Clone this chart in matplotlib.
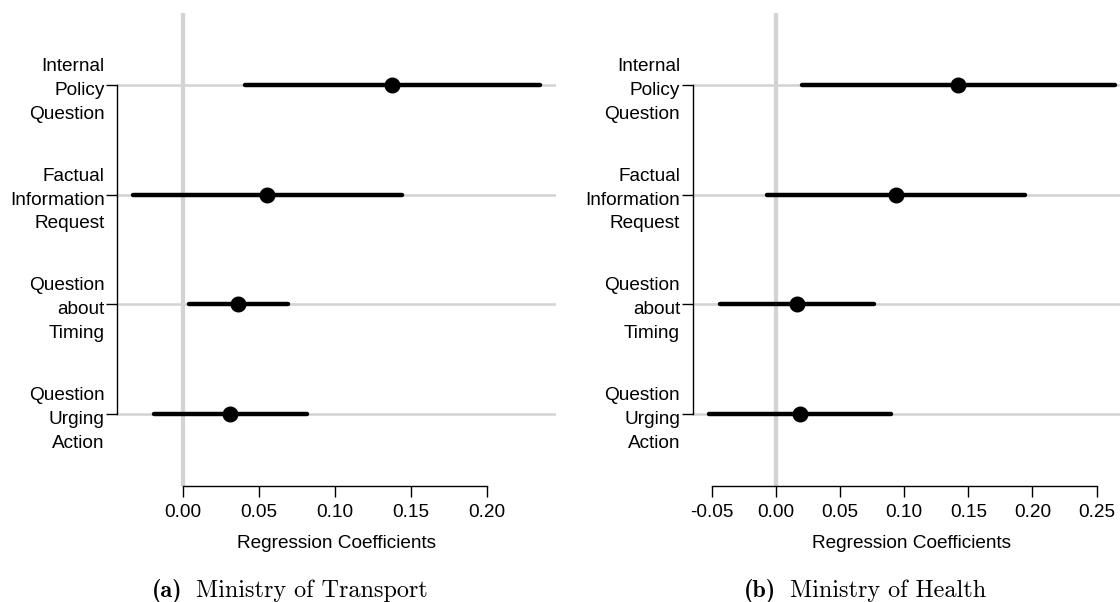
# coefficient plots for the two ministries, side by side
import numpy as np
import matplotlib.pyplot as plt
from matplotlib.ticker import FormatStrFormatter

plt.rcParams['font.family'] = ['Liberation Sans', 'DejaVu Sans']
plt.rcParams['axes.unicode_minus'] = False

categories = ["Internal\nPolicy\nQuestion",
              "Factual\nInformation\nRequest",
              "Question\nabout\nTiming",
              "Question\nUrging\nAction"]

# Ministry of Transport
transport_est = [0.1376, 0.0554, 0.0362, 0.0310]
transport_lo = [0.0404, -0.0329, 0.0035, -0.0192]
transport_hi = [0.2347, 0.1441, 0.0688, 0.0812]
transport_ticks = [0.00, 0.05, 0.10, 0.15, 0.20]

# Ministry of Health
health_est = [0.1421, 0.0934, 0.0161, 0.0189]
health_lo = [0.0200, -0.0067, -0.0439, -0.0523]
health_hi = [0.2645, 0.1944, 0.0762, 0.0901]
health_ticks = [-0.05, 0.00, 0.05, 0.10, 0.15, 0.20, 0.25]

W, H = 1120, 602
fig = plt.figure(figsize=(W / 100, H / 100), dpi=100)

GRAY = '#d3d3d3'
FS = 13.7


def coef_panel(left_px, est, lo, hi, ticks, tag, title, title_x, name_x):
    ax = fig.add_axes([left_px / W, 1 - 485.7 / H, 439 / W, (485.7 - 13) / H])
    ys = np.arange(len(categories), 0, -1)

    # R style limits: data range padded by 4%
    xmin, xmax = min(lo), max(hi)
    pad = 0.04 * (xmax - xmin)
    ax.set_xlim(xmin - pad, xmax + pad)
    ax.set_ylim(0.343, 4.657)

    for y in ys:
        ax.axhline(y, color=GRAY, lw=1.8, zorder=1)
    ax.axvline(0, color=GRAY, lw=3.1, zorder=1)

    ax.hlines(ys, lo, hi, color='black', lw=3.2, capstyle='round', zorder=3)
    ax.plot(est, ys, 'o', color='black', ms=10.5, zorder=4)

    for s in ['top', 'right']:
        ax.spines[s].set_visible(False)
    ax.spines['left'].set_bounds(1, 4)
    ax.spines['bottom'].set_bounds(ticks[0], ticks[-1])
    for s in ['left', 'bottom']:
        ax.spines[s].set_linewidth(1.0)

    ax.set_yticks(ys)
    ax.set_yticklabels(categories, fontsize=FS, linespacing=1.53)
    ax.set_xticks(ticks)
    ax.xaxis.set_major_formatter(FormatStrFormatter('%.2f'))
    ax.tick_params(axis='x', length=8, width=1.0, pad=5, labelsize=FS)
    ax.tick_params(axis='y', length=8, width=1.0, pad=1, labelsize=FS)

    ax.set_xlabel("Regression Coefficients", fontsize=FS)
    ax.xaxis.label.set_va('center')
    ax.xaxis.set_label_coords(0.5, -(544 - 485.7) / (485.7 - 13))

    fig.text(title_x / W, 1 - 597 / H, tag, family='cmb10', fontsize=17.4,
             ha='left', va='baseline')
    fig.text(name_x / W, 1 - 597 / H, title, family='cmr10', fontsize=17.4,
             ha='left', va='baseline')
    return ax


coef_panel(117, transport_est, transport_lo, transport_hi, transport_ticks,
           "(a)", "Ministry of Transport", 152, 196)
coef_panel(692.5, health_est, health_lo, health_hi, health_ticks,
           "(b)", "Ministry of Health", 744, 790)

fig.savefig("out.png", dpi=100)
